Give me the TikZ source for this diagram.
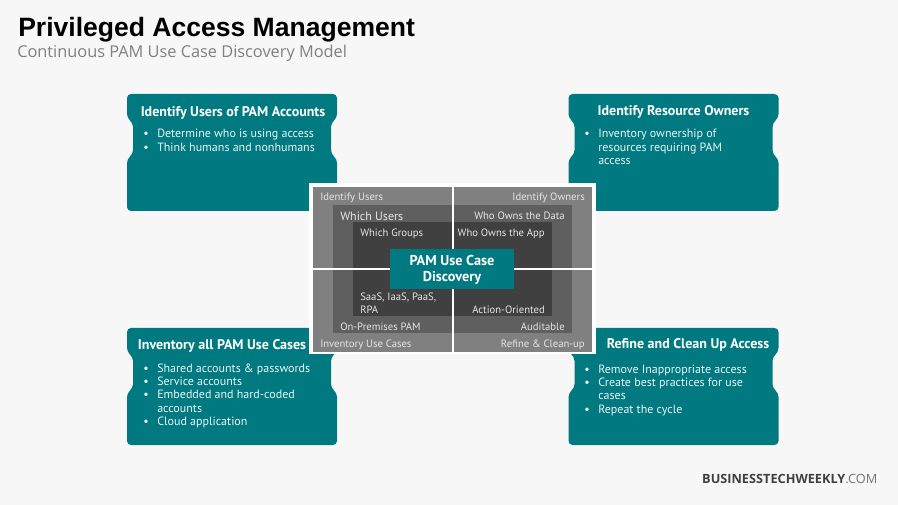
\documentclass[tikz,border=0pt]{standalone}
\usepackage{fontspec}
\setmainfont{PT Sans}
\newfontfamily\titlefont{Liberation Sans}
\newfontfamily\subfont{Open Sans}
\usetikzlibrary{positioning}
\definecolor{cardteal}{HTML}{007A80}
\definecolor{pagegray}{HTML}{F7F7F7}
\definecolor{ringouter}{HTML}{808080}
\definecolor{ringmiddle}{HTML}{5F5F5F}
\definecolor{ringinner}{HTML}{404040}
\newcommand{\bul}{\makebox[10.5pt][l]{\textbullet}}
\newcommand{\nobul}{\hspace*{10.5pt}}

\begin{document}
\begin{tikzpicture}[x=0.75pt, y=-0.75pt,
		cardhead/.style={text=white, inner sep=0pt, font=\fontsize{10.5}{12}\selectfont\bfseries},
		cardlist/.style={text=white!92!cardteal, inner sep=0pt, anchor=north west, align=left, font=\fontsize{9}{10}\selectfont},
		ringlabel/.style={text=white!90!black, inner sep=0pt, font=\fontsize{8}{10}\selectfont},
		ringleft/.style={ringlabel, anchor=west},
		ringright/.style={ringlabel, anchor=east},
		divider/.style={white, line width=0.8pt}]
		\useasboundingbox (0, 0) rectangle (898, 505);
		\fill[pagegray] (0, 0) rectangle (898, 505);
		\node[anchor=west, inner sep=0pt, font=\fontsize{19.9}{24}\selectfont\titlefont\bfseries] (title) at (18, 29.5) {Privileged Access Management};
		\node[anchor=west, inner sep=0pt, text=black!50, font=\fontsize{12.25}{14}\selectfont\subfont] (subtitle) at (17, 53.5) {Continuous PAM Use Case Discovery Model};
		% the four cards
		\foreach \cx/\cy in {127/94, 568.5/94, 127/328, 568.5/328} {
			\begin{scope}[shift={(\cx, \cy)}]
				\fill[cardteal, rounded corners=3] (0, 0) -- (210, 0) -- (210, 24) -- (204, 29) -- (204, 60) -- (210, 65) -- (210, 117) -- (0, 117) -- (0, 65) -- (6, 60) -- (6, 29) -- (0, 24) -- cycle;
			\end{scope}
		}
		\node[cardhead] (usershead) at (233, 112.5) {Identify Users of PAM Accounts};
		\node[cardhead] (ownershead) at (673.5, 111.5) {Identify Resource Owners};
		\node[cardhead] (caseshead) at (222, 345.5) {Inventory all PAM Use Cases};
		\node[cardhead] (refinehead) at (688, 344.5) {Refine and Clean Up Access};
		\node[cardlist] (userslist) at (143, 129) {\bul Determine who is using access\\\bul Think humans and nonhumans};
		\node[cardlist] (ownerslist) at (584, 129) {\bul Inventory ownership of\\\nobul resources requiring PAM\\\nobul access};
		\node[cardlist] (caseslist) at (143, 363.5) {\bul Shared accounts \& passwords\\\bul Service accounts\\\bul Embedded and hard-coded\\\nobul accounts\\\bul Cloud application};
		\node[cardlist] (refinelist) at (584, 364.5) {\bul Remove Inappropriate access\\\bul Create best practices for use\\\nobul cases\\\bul Repeat the cycle};
		% centre square
		\fill[white] (309, 183) rectangle (596, 354);
		\fill[ringouter] (313, 187) rectangle (592, 352);
		\fill[ringmiddle] (333, 205) rectangle (572, 333);
		\fill[ringinner] (353, 222) rectangle (552, 316);
		\draw[divider] (453, 187) -- (453, 352);
		\draw[divider] (313, 269) -- (592, 269);
		\node[fill=cardteal, text=white, minimum width=93pt, minimum height=30pt, inner sep=0pt, align=center, font=\fontsize{10.7}{12.2}\selectfont\bfseries] (discovery) at (452, 269) {\rule{0pt}{9pt}PAM Use Case\\Discovery};
		% quadrant labels
		\node[ringleft] (identifyusers) at (320, 198) {Identify Users};
		\node[ringright] (identifyowners) at (585, 198) {Identify Owners};
		\node[ringleft, font=\fontsize{9}{10}\selectfont] (whichusers) at (340, 216.5) {Which Users};
		\node[ringright] (whodata) at (565, 216) {Who Owns the Data};
		\node[ringleft] (whichgroups) at (360, 233.5) {Which Groups};
		\node[ringright] (whoapp) at (545, 233.5) {Who Owns the App};
		\node[ringleft, align=left] (saas) at (360, 303.5) {SaaS, IaaS, PaaS,\\RPA};
		\node[ringright] (action) at (545, 310) {Action-Oriented};
		\node[ringleft] (onprem) at (340, 327) {On-Premises PAM};
		\node[ringright] (auditable) at (565, 327) {Auditable};
		\node[ringleft] (inventory) at (320, 345) {Inventory Use Cases};
		\node[ringright] (cleanup) at (585, 345) {Refine \& Clean-up};
		% footer
		\node[anchor=east, inner sep=0pt, text=black!75, font=\fontsize{9.55}{12}\selectfont\subfont] (footer) at (877.5, 479) {\textbf{BUSINESSTECHWEEKLY}\textcolor{black!55}{.COM}};
\end{tikzpicture}
\end{document}
